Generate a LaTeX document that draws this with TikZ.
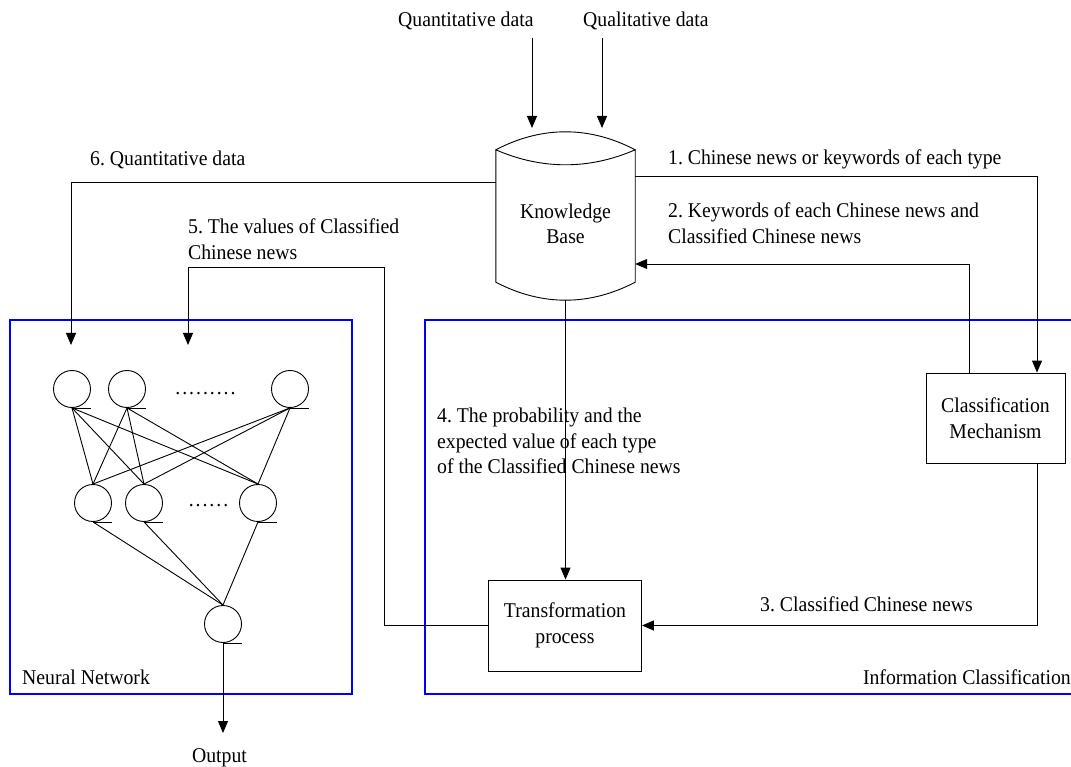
\documentclass[tikz,border=0pt]{standalone}
\usepackage{fontspec}
\setmainfont{Liberation Serif}[FakeStretch=0.94]
\usetikzlibrary{arrows.meta}
\newcommand\dd{.\kern1.97pt}
\frenchspacing
\begin{document}
\begin{tikzpicture}[x=1pt,y=-1pt,
  every node/.style={font=\fontsize{21}{25.5}\selectfont, inner sep=0pt},
  line/.style={draw=black, line width=0.9pt},
  arr/.style={line, -{Triangle[length=12pt,width=10pt]}},
  frame/.style={draw=blue, line width=2.6pt},
  procbox/.style={draw, line width=0.9pt, align=center},
  neuron/.style={circle, draw, line width=0.9pt, minimum size=37pt},
  lbl/.style={anchor=base west},
  mlbl/.style={anchor=north west, align=left}]
\clip (0,0) rectangle (1071,767);

% module frames
\draw[frame] (10,320) rectangle (352,694);
\draw[frame] (425,320) rectangle (1090,694);
\node[lbl] (nnlbl) at (22,684) {Neural Network};
\node[anchor=base east] (iclbl) at (1071,684) {Information Classification};

% knowledge base (drum shape drawn around an empty node)
\node[minimum width=139pt, minimum height=132pt] (kb) at (565.5,216) {};
\draw[line] (kb.north west) .. controls +(46,-24) and +(-46,-24) .. (kb.north east)
  .. controls +(-46,20) and +(46,20) .. (kb.north west) -- (kb.south west)
  .. controls +(46,24) and +(-46,24) .. (kb.south east) -- (kb.north east);
\node[align=center] (kbtext) at (565.5,224) {Knowledge\\Base};

% process boxes
\node[procbox, minimum width=139pt, minimum height=90pt] (cm) at (995.5,418) {Classification\\Mechanism};
\node[procbox, minimum width=153pt, minimum height=91pt] (tp) at (565,625.5) {Transformation\\process};

% inputs
\node[lbl] (qt) at (398,27) {Quantitative data};
\node[lbl] (ql) at (583,27) {Qualitative data};
\coordinate (qs1) at (532,38);  \coordinate (qe1) at (532,128);
\coordinate (qs2) at (602,38);  \coordinate (qe2) at (602,128);
\draw[arr] (qs1) -- (qe1);
\draw[arr] (qs2) -- (qe2);

% neural network
\node[neuron] (t1) at (72,389) {};
\node[neuron] (t2) at (127,389) {};
\node[neuron] (t3) at (290,389) {};
\node[neuron] (m1) at (93,503) {};
\node[neuron] (m2) at (144,503) {};
\node[neuron] (m3) at (258,503) {};
\node[neuron] (o) at (223,624) {};
\node[anchor=base] (dtop) at (205.5,394) {\dd\dd\dd\dd\dd\dd\dd\dd.};
\node[anchor=base] (dmid) at (208.5,506) {\dd\dd\dd\dd\dd.};
\foreach \a in {t1,t2,t3} \foreach \b in {m1,m2,m3} \draw[line] (\a.south) -- (\b.north);
\foreach \b in {m1,m2,m3} \draw[line] (\b.south) -- (o.north);
\foreach \n in {t1,t2,t3,m1,m2,m3,o} \draw[line] (\n.south) -- ++(18.5,0);
\coordinate (otip) at (223,733);
\draw[arr] (o.south) -- (otip);
\node[anchor=base] (outlbl) at (219.5,762) {Output};

% flows
\coordinate (in6) at (71,345);
\draw[arr] ([yshift=-33pt]kb.north west) -| (in6);
\node[lbl] (l6) at (90,166) {6. Quantitative data};

\draw[arr] ([yshift=-27pt]kb.north east) -| ([xshift=41.5pt]cm.north);
\node[lbl] (l1) at (668,165) {1. Chinese news or keywords of each type};

\coordinate (y2) at (0,264);
\draw[arr] ([xshift=-26.5pt]cm.north) |- (kb.east |- y2);
\node[mlbl] (l2) at (668,203) {2. Keywords of each Chinese news and\\Classified Chinese news};

\draw[arr] ([yshift=-18pt]kb.south) -- (kb.south |- tp.north);
\node[mlbl] (l4) at (437,408) {4. The probability and the\\expected value of each type\\of the Classified Chinese news};

\draw[arr] ([xshift=41.5pt]cm.south) |- (tp.east);
\node[lbl] (l3) at (760,611) {3. Classified Chinese news};

\coordinate (c5a) at (384,267);
\coordinate (c5b) at (188,267);
\coordinate (in5) at (188,345);
\draw[arr] (tp.west) -| (c5a) -- (c5b) -- (in5);
\node[mlbl] (l5) at (188,219) {5. The values of Classified\\Chinese news};
\end{tikzpicture}
\end{document}
